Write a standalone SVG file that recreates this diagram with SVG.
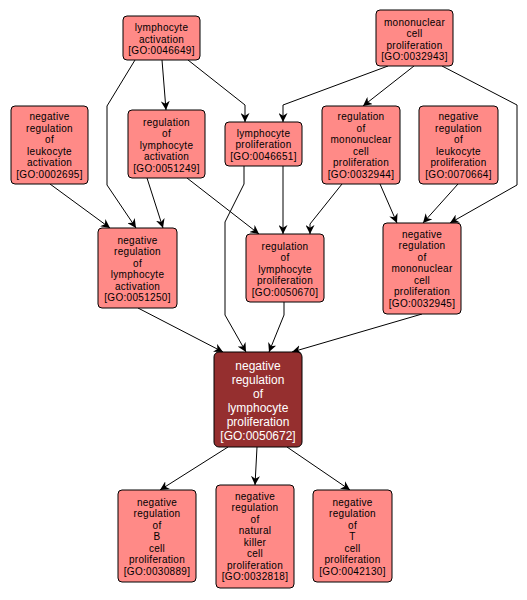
<svg xmlns="http://www.w3.org/2000/svg" width="527" height="600" viewBox="0 0 527 600">
<style>
.n rect{fill:#ff8a87;stroke:#000;stroke-width:1}
.n text{font-family:"Liberation Sans",Arial,sans-serif;font-size:10px;letter-spacing:0.3px;text-anchor:middle;fill:#000}
.m rect{fill:#952f2f;stroke:#000;stroke-width:1}
.m text{font-family:"Liberation Sans",Arial,sans-serif;font-size:12px;text-anchor:middle;fill:#fff}
#edges polyline{fill:none;stroke:#000;stroke-width:1;marker-end:url(#ah)}
</style>
<defs>
<marker id="ah" viewBox="0 0 10 10" refX="10" refY="5" markerWidth="9" markerHeight="9" markerUnits="userSpaceOnUse" orient="auto">
<path d="M0,0 L10,5 L0,10 L3,5 Z" fill="#000"/>
</marker>
</defs>
<rect width="527" height="600" fill="#fff"/>
<g id="edges">
<polyline points="162,60 166,110"/>
<polyline points="188,60 245,105 245,122"/>
<polyline points="135,60 107,106 107,185 136,228"/>
<polyline points="50,184 110,228"/>
<polyline points="147,178 163,228"/>
<polyline points="187,178 259,234"/>
<polyline points="244,166 244,184 225,222 225,315 246,352"/>
<polyline points="283,166 283,234"/>
<polyline points="388,66 283,105 283,122"/>
<polyline points="414,66 363,106"/>
<polyline points="442,66 517,105 517,185 450,223"/>
<polyline points="342,184 310,224 310,234"/>
<polyline points="380,184 397,223"/>
<polyline points="458,184 423,223"/>
<polyline points="138,308 223,352"/>
<polyline points="284,302 284,315 269,352"/>
<polyline points="422,314 292,352"/>
<polyline points="228,447 160,490"/>
<polyline points="257,447 255,485"/>
<polyline points="287,447 350,490"/>
</g>
<g id="GO0046649" class="n"><rect x="123" y="16" width="77" height="44" rx="4"/>
<text x="161.5" y="31">lymphocyte</text><text x="161.5" y="42.5">activation</text><text x="161.5" y="54">[GO:0046649]</text></g>
<g id="GO0002695" class="n"><rect x="11" y="106" width="77" height="78" rx="4"/>
<text x="49.5" y="120">negative</text><text x="49.5" y="131.5">regulation</text><text x="49.5" y="143">of</text><text x="49.5" y="154.5">leukocyte</text><text x="49.5" y="166">activation</text><text x="49.5" y="177.5">[GO:0002695]</text></g>
<g id="GO0051249" class="n"><rect x="128" y="110" width="77" height="68" rx="4"/>
<text x="166.5" y="125.5">regulation</text><text x="166.5" y="137">of</text><text x="166.5" y="148.5">lymphocyte</text><text x="166.5" y="160">activation</text><text x="166.5" y="171.5">[GO:0051249]</text></g>
<g id="GO0046651" class="n"><rect x="225" y="122" width="77" height="44" rx="4"/>
<text x="263.5" y="136.5">lymphocyte</text><text x="263.5" y="148">proliferation</text><text x="263.5" y="159.5">[GO:0046651]</text></g>
<g id="GO0032943" class="n"><rect x="376" y="10" width="77" height="56" rx="4"/>
<text x="414.5" y="25.5">mononuclear</text><text x="414.5" y="37">cell</text><text x="414.5" y="48.5">proliferation</text><text x="414.5" y="60">[GO:0032943]</text></g>
<g id="GO0032944" class="n"><rect x="322" y="106" width="78" height="78" rx="4"/>
<text x="361" y="120">regulation</text><text x="361" y="131.5">of</text><text x="361" y="143">mononuclear</text><text x="361" y="154.5">cell</text><text x="361" y="166">proliferation</text><text x="361" y="177.5">[GO:0032944]</text></g>
<g id="GO0070664" class="n"><rect x="419" y="106" width="79" height="78" rx="4"/>
<text x="458.5" y="120">negative</text><text x="458.5" y="131.5">regulation</text><text x="458.5" y="143">of</text><text x="458.5" y="154.5">leukocyte</text><text x="458.5" y="166">proliferation</text><text x="458.5" y="177.5">[GO:0070664]</text></g>
<g id="GO0051250" class="n"><rect x="98" y="228" width="79" height="80" rx="4"/>
<text x="137.5" y="243.5">negative</text><text x="137.5" y="255">regulation</text><text x="137.5" y="266.5">of</text><text x="137.5" y="278">lymphocyte</text><text x="137.5" y="289.5">activation</text><text x="137.5" y="301">[GO:0051250]</text></g>
<g id="GO0050670" class="n"><rect x="246" y="234" width="78" height="68" rx="4"/>
<text x="285" y="249.5">regulation</text><text x="285" y="261">of</text><text x="285" y="272.5">lymphocyte</text><text x="285" y="284">proliferation</text><text x="285" y="295.5">[GO:0050670]</text></g>
<g id="GO0032945" class="n"><rect x="383" y="223" width="78" height="91" rx="4"/>
<text x="422" y="237.5">negative</text><text x="422" y="249">regulation</text><text x="422" y="260.5">of</text><text x="422" y="272">mononuclear</text><text x="422" y="283.5">cell</text><text x="422" y="295">proliferation</text><text x="422" y="306.5">[GO:0032945]</text></g>
<g id="GO0050672" class="m"><rect x="214" y="352" width="88" height="95" rx="5"/>
<text x="258" y="369.5">negative</text><text x="258" y="383.5">regulation</text><text x="258" y="397.5">of</text><text x="258" y="411.5">lymphocyte</text><text x="258" y="425.5">proliferation</text><text x="258" y="440">[GO:0050672]</text></g>
<g id="GO0030889" class="n"><rect x="118" y="490" width="78" height="92" rx="4"/>
<text x="157" y="505.5">negative</text><text x="157" y="517">regulation</text><text x="157" y="528.5">of</text><text x="157" y="540">B</text><text x="157" y="551.5">cell</text><text x="157" y="563">proliferation</text><text x="157" y="574.5">[GO:0030889]</text></g>
<g id="GO0032818" class="n"><rect x="216" y="485" width="78" height="103" rx="4"/>
<text x="255" y="499.5">negative</text><text x="255" y="511">regulation</text><text x="255" y="522.5">of</text><text x="255" y="534">natural</text><text x="255" y="545.5">killer</text><text x="255" y="557">cell</text><text x="255" y="568.5">proliferation</text><text x="255" y="580">[GO:0032818]</text></g>
<g id="GO0042130" class="n"><rect x="313" y="490" width="79" height="92" rx="4"/>
<text x="352.5" y="505.5">negative</text><text x="352.5" y="517">regulation</text><text x="352.5" y="528.5">of</text><text x="352.5" y="540">T</text><text x="352.5" y="551.5">cell</text><text x="352.5" y="563">proliferation</text><text x="352.5" y="574.5">[GO:0042130]</text></g>
</svg>
